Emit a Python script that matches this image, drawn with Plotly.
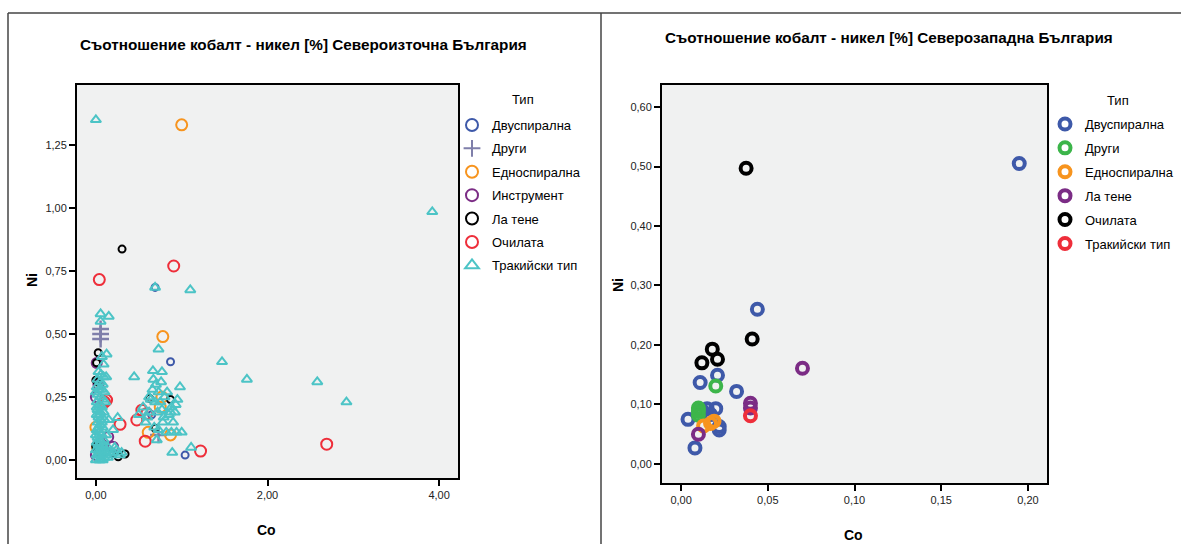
import plotly.graph_objects as go

# ---------------- data: left chart (Североизточна България) ----------------
ne_categories = ["Двуспирална", "Други", "Едноспирална", "Инструмент", "Ла тене", "Очилата", "Тракийски тип"]

ne_dvusp_co = [0.69, 0.87, 1.04, 0.65]
ne_dvusp_ni = [0.685, 0.39, 0.02, 0.18]

ne_drugi_co = [0.055, 0.055, 0.055, 0.73]
ne_drugi_ni = [0.52, 0.50, 0.48, 0.10]

ne_ednosp_co = [1.00, 0.78, 0.77, 0.61, 0.87, 0.00, 0.02, 0.75]
ne_ednosp_ni = [1.33, 0.49, 0.25, 0.11, 0.10, 0.13, 0.05, 0.21]

ne_instr_co = [0.01, 0.00, 0.144, 0.20, 0.05, 0.00, 0.03]
ne_instr_ni = [0.385, 0.25, 0.092, 0.053, 0.07, 0.02, 0.30]

ne_latene_co = [0.305, 0.027, 0.008, 0.625, 0.69, 0.00, 0.20, 0.26, 0.34, 0.02, 0.00, 0.87, 0.03, 0.00]
ne_latene_ni = [0.837, 0.426, 0.386, 0.245, 0.126, 0.06, 0.027, 0.013, 0.024, 0.31, 0.317, 0.24, 0.027, 0.053]

ne_ochil_co = [0.907, 0.04, 2.69, 1.22, 0.575, 0.282, 0.536, 0.594, 0.477, 0.125, 0.10]
ne_ochil_ni = [0.770, 0.716, 0.063, 0.036, 0.075, 0.142, 0.198, 0.185, 0.159, 0.238, 0.23]

ne_trak_co = [0.00, 3.92, 0.69, 1.10, 0.055, 0.15, 0.055, 0.73, 1.47, 1.76, 2.58, 2.92, 0.125, 0.446, 0.89, 1.11,
              0.665, 0.77, 0.98, 0.70, 0.66, 0.73, 0.80, 0.95, 0.93, 0.88, 0.77, 0.72, 0.85, 0.62, 0.55, 0.68, 0.78,
              0.90, 1.00, 0.82, 0.88, 0.94, 0.71, 0.60, 0.75, 0.83, 0.69, 0.64, 0.87, 0.79, 0.73, 0.92, 0.76, 0.67,
              0.62, 0.50, 0.58,
              0.03, 0.06, 0.09, 0.12, 0.02, 0.05, 0.08, 0.01, 0.04, 0.07, 0.10, 0.02, 0.05, 0.08, 0.11, 0.01, 0.04,
              0.07, 0.02, 0.05, 0.09, 0.01, 0.03, 0.06, 0.10, 0.02, 0.05, 0.08, 0.01, 0.04, 0.07, 0.12, 0.02, 0.05,
              0.09, 0.01, 0.03, 0.06, 0.10, 0.14, 0.00, 0.04, 0.08, 0.12, 0.16, 0.20, 0.24, 0.28, 0.02, 0.06, 0.10,
              0.14, 0.00, 0.04, 0.08, 0.03, 0.00, 0.00, 0.09, 0.07, 0.20, 0.22, 0.18, 0.15, 0.30, 0.254,
              0.01, 0.04, 0.07, 0.02, 0.06, 0.03, 0.08, 0.01, 0.05]
ne_trak_ni = [1.35, 0.985, 0.685, 0.675, 0.58, 0.57, 0.55, 0.44, 0.39, 0.32, 0.31, 0.23, 0.42, 0.33, 0.03, 0.05,
              0.354, 0.35, 0.29, 0.30, 0.28, 0.27, 0.25, 0.24, 0.22, 0.21, 0.20, 0.19, 0.18, 0.19, 0.21, 0.13, 0.15,
              0.15, 0.11, 0.11, 0.11, 0.11, 0.08, 0.17, 0.23, 0.27, 0.23, 0.24, 0.19, 0.17, 0.12, 0.19, 0.31, 0.32,
              0.25, 0.18, 0.15,
              0.35, 0.34, 0.33, 0.33, 0.32, 0.31, 0.30, 0.29, 0.28, 0.28, 0.27, 0.26, 0.25, 0.24, 0.23, 0.23, 0.22,
              0.21, 0.20, 0.19, 0.19, 0.18, 0.17, 0.16, 0.16, 0.15, 0.14, 0.13, 0.12, 0.11, 0.10, 0.10, 0.09, 0.08,
              0.08, 0.07, 0.06, 0.05, 0.05, 0.05, 0.04, 0.03, 0.03, 0.03, 0.03, 0.03, 0.04, 0.02, 0.02, 0.01, 0.01,
              0.01, 0.00, 0.00, 0.00, 0.13, 0.10, 0.27, 0.38, 0.41, 0.12, 0.05, 0.02, 0.16, 0.03, 0.168,
              0.21, 0.18, 0.15, 0.12, 0.07, 0.04, 0.06, 0.02, 0.00]

# ---------------- data: right chart (Северозападна България) ----------------
nw_categories = ["Двуспирална", "Други", "Едноспирална", "Ла тене", "Очилата", "Тракийски тип"]

nw_dvusp_co = [0.195, 0.044, 0.021, 0.011, 0.032, 0.015, 0.020, 0.017, 0.004, 0.022, 0.022, 0.008, 0.012]
nw_dvusp_ni = [0.505, 0.260, 0.149, 0.137, 0.122, 0.093, 0.093, 0.083, 0.075, 0.063, 0.057, 0.027, 0.090]

nw_drugi_co = [0.020, 0.010, 0.010, 0.010]
nw_drugi_ni = [0.131, 0.094, 0.082, 0.088]

nw_ednosp_co = [0.019, 0.013, 0.017]
nw_ednosp_ni = [0.072, 0.064, 0.068]

nw_latene_co = [0.070, 0.040, 0.040, 0.010]
nw_latene_ni = [0.161, 0.102, 0.094, 0.050]

nw_ochil_co = [0.0375, 0.041, 0.018, 0.012, 0.021]
nw_ochil_ni = [0.497, 0.210, 0.193, 0.170, 0.176]

nw_trak_co = [0.040]
nw_trak_ni = [0.081]

left_title = "Съотношение кобалт - никел [%] Североизточна България"
right_title = "Съотношение кобалт - никел [%] Северозападна България"
legend_title = "Тип"
x_label = "Co"
y_label = "Ni"

ne_xticks = [0, 2, 4]
ne_yticks = [0, 0.25, 0.5, 0.75, 1.0, 1.25]
nw_xticks = [0, 0.05, 0.10, 0.15, 0.20]
nw_yticks = [0, 0.1, 0.2, 0.3, 0.4, 0.5, 0.6]

# ---------------- styles ----------------
FONT = "Liberation Sans, Arial, sans-serif"
BLUE = "#3E59A9"
GRAY = "#7F7FAA"
ORANGE = "#F7941E"
PURPLE = "#7B2C85"
BLACK = "#000000"
RED = "#EE2E3A"
CYAN = "#4CC4C6"
GREEN = "#3CB54A"

fig = go.Figure()

left_series = [
    (ne_categories[0], ne_dvusp_co, ne_dvusp_ni, "circle-open", BLUE, 7, 2),
    (ne_categories[1], ne_drugi_co, ne_drugi_ni, "cross-thin-open", GRAY, 12, 2.5),
    (ne_categories[2], ne_ednosp_co, ne_ednosp_ni, "circle-open", ORANGE, 11, 2),
    (ne_categories[3], ne_instr_co, ne_instr_ni, "circle-open", PURPLE, 10, 2),
    (ne_categories[4], ne_latene_co, ne_latene_ni, "circle-open", BLACK, 7, 2),
    (ne_categories[5], ne_ochil_co, ne_ochil_ni, "circle-open", RED, 11, 2),
    (ne_categories[6], ne_trak_co, ne_trak_ni, "triangle-up-open", CYAN, 9, 2),
]
for i, (name, xs, ys, sym, col, sz, lw) in enumerate(left_series):
    fig.add_trace(go.Scatter(
        x=xs, y=ys, mode="markers", name=name, legend="legend", legendgroup="L%d" % i,
        marker=dict(symbol=sym, color=col, size=sz, line=dict(color=col, width=lw)),
        xaxis="x", yaxis="y", hoverinfo="skip"))

right_series = [
    (nw_categories[0], nw_dvusp_co, nw_dvusp_ni, BLUE),
    (nw_categories[1], nw_drugi_co, nw_drugi_ni, GREEN),
    (nw_categories[2], nw_ednosp_co, nw_ednosp_ni, ORANGE),
    (nw_categories[3], nw_latene_co, nw_latene_ni, PURPLE),
    (nw_categories[4], nw_ochil_co, nw_ochil_ni, BLACK),
    (nw_categories[5], nw_trak_co, nw_trak_ni, RED),
]
for i, (name, xs, ys, col) in enumerate(right_series):
    fig.add_trace(go.Scatter(
        x=xs, y=ys, mode="markers", name=name, legend="legend2", legendgroup="R%d" % i,
        marker=dict(symbol="circle-open", color=col, size=11, line=dict(color=col, width=4)),
        xaxis="x2", yaxis="y2", hoverinfo="skip"))

W, H = 1181, 544

def px(x):
    return x / W

def py(y):
    return 1 - y / H

axis_common = dict(showline=True, mirror=True, linecolor="black", linewidth=2,
                   ticks="outside", ticklen=6, tickwidth=1.5, tickcolor="black",
                   showgrid=False, zeroline=False, tickformat=".2f",
                   tickfont=dict(family=FONT, size=11, color="#222"))

fig.update_layout(
    width=W, height=H, margin=dict(l=0, r=0, t=0, b=0),
    paper_bgcolor="white", plot_bgcolor="#F0F1F1",
    separators=",.",
    font=dict(family=FONT, color="black"),
    xaxis=dict(domain=[px(77), px(458)], range=[-0.22, 4.22], tickvals=ne_xticks, anchor="y", **axis_common),
    yaxis=dict(domain=[py(478), py(85)], range=[-0.071, 1.488], tickvals=ne_yticks, anchor="x", **axis_common),
    xaxis2=dict(domain=[px(662), px(1047)], range=[-0.011, 0.211], tickvals=nw_xticks, anchor="y2", **axis_common),
    yaxis2=dict(domain=[py(483), py(85)], range=[-0.032, 0.637], tickvals=nw_yticks, anchor="x2", **axis_common),
    legend=dict(x=px(452), y=py(110), xanchor="left", yanchor="top", bgcolor="rgba(0,0,0,0)",
                font=dict(family=FONT, size=13), tracegroupgap=3.5, itemsizing="constant"),
    legend2=dict(x=px(1045), y=py(109), xanchor="left", yanchor="top", bgcolor="rgba(0,0,0,0)",
                 font=dict(family=FONT, size=13), tracegroupgap=4, itemsizing="trace"),
    showlegend=True,
)

ann = [
    dict(text="<b>%s</b>" % left_title, x=px(78), y=py(44), xanchor="left", yanchor="middle",
         font=dict(size=15.3)),
    dict(text="<b>%s</b>" % right_title, x=px(663), y=py(38), xanchor="left", yanchor="middle",
         font=dict(size=15.3)),
    dict(text=legend_title, x=px(523), y=py(99), xanchor="center", yanchor="middle",
         font=dict(size=13)),
    dict(text=legend_title, x=px(1118), y=py(100), xanchor="center", yanchor="middle",
         font=dict(size=13)),
    dict(text="<b>%s</b>" % x_label, x=px(266), y=py(530), xanchor="center", yanchor="middle",
         font=dict(size=14)),
    dict(text="<b>%s</b>" % x_label, x=px(853), y=py(535), xanchor="center", yanchor="middle",
         font=dict(size=14)),
    dict(text="<b>%s</b>" % y_label, x=px(32), y=py(280), xanchor="center", yanchor="middle",
         textangle=-90, font=dict(size=14)),
    dict(text="<b>%s</b>" % y_label, x=px(618), y=py(285), xanchor="center", yanchor="middle",
         textangle=-90, font=dict(size=14)),
]
for a in ann:
    a.update(xref="paper", yref="paper", showarrow=False)
fig.update_layout(annotations=ann)

frame = dict(color="#444", width=1.5)
fig.update_layout(shapes=[
    dict(type="line", xref="paper", yref="paper", x0=px(8), x1=1, y0=py(13), y1=py(13), line=frame),
    dict(type="line", xref="paper", yref="paper", x0=px(8), x1=px(8), y0=py(13), y1=0, line=frame),
    dict(type="line", xref="paper", yref="paper", x0=px(601), x1=px(601), y0=py(13), y1=0, line=frame),
])

fig.write_html("out.html")
